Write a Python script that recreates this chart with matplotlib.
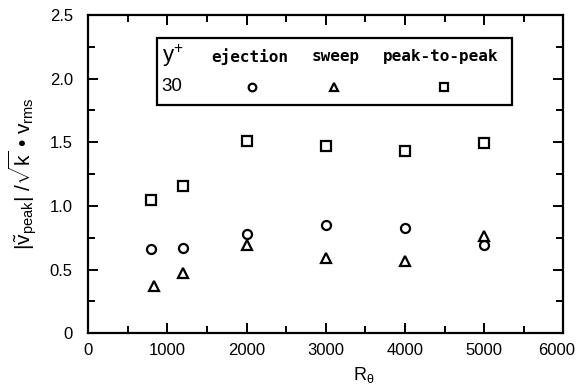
import matplotlib.pyplot as plt
from matplotlib.patches import Rectangle
from matplotlib.transforms import ScaledTranslation
from matplotlib.ticker import MultipleLocator, FixedFormatter, FixedLocator

# R_theta stations and normalised peak amplitudes at y+ = 30
r_theta = [800, 1200, 2000, 3000, 4000, 5000]
r_theta_sweep = [830, 1200, 2000, 3000, 4000, 5000]
ejection = [0.66, 0.67, 0.78, 0.85, 0.83, 0.69]
sweep = [0.37, 0.47, 0.69, 0.59, 0.57, 0.76]
peak_to_peak = [1.05, 1.16, 1.51, 1.47, 1.43, 1.49]

y_ticks = [0, 0.5, 1.0, 1.5, 2.0, 2.5]
y_tick_labels = ['0', '0.5', '1.0', '1.5', '2.0', '2.5']
x_ticks = [0, 1000, 2000, 3000, 4000, 5000, 6000]

plt.rcParams['font.family'] = ['Liberation Sans', 'DejaVu Sans']
plt.rcParams['mathtext.fontset'] = 'custom'
plt.rcParams['mathtext.rm'] = 'Liberation Sans'
plt.rcParams['mathtext.it'] = 'Liberation Sans'
plt.rcParams['mathtext.bf'] = 'Liberation Sans:bold'

fig = plt.figure(figsize=(5.76, 3.92), dpi=100)
ax = fig.add_axes((0.153, 0.150, 0.825, 0.812))

mk = dict(linestyle='none', markerfacecolor='white', markeredgecolor='black',
          markeredgewidth=1.6, color='black', clip_on=False)
ax.plot(r_theta, ejection, marker='o', markersize=6.5, **mk)
ax.plot(r_theta_sweep, sweep, marker='^', markersize=6.5, **mk)
ax.plot(r_theta, peak_to_peak, marker='s', markersize=6.5, **mk)

ax.set_xlim(0, 6000)
ax.set_ylim(0, 2.5)
ax.xaxis.set_major_locator(FixedLocator(x_ticks))
ax.xaxis.set_minor_locator(MultipleLocator(500))
ax.yaxis.set_major_locator(FixedLocator(y_ticks))
ax.yaxis.set_major_formatter(FixedFormatter(y_tick_labels))
ax.yaxis.set_minor_locator(MultipleLocator(0.25))
ax.tick_params(which='both', direction='in', top=True, right=True,
               width=1.4, labelsize=12)
ax.tick_params(which='major', length=7)
ax.tick_params(which='minor', length=5)
ax.tick_params(axis='x', pad=7)
ax.tick_params(axis='y', pad=11)
for s in ax.spines.values():
    s.set_linewidth(1.6)

# keep the last x label inside the figure
fig.canvas.draw()
last = ax.get_xticklabels()[-1]
last.set_transform(last.get_transform() + ScaledTranslation(-7 / 100, 0, fig.dpi_scale_trans))

ax.set_xlabel(r'$\mathregular{R_{\theta}}$', fontsize=13)
ax.xaxis.set_label_coords(0.58, -0.10)
ax.set_ylabel(r'$|\tilde{v}_{peak}|\ /\sqrt{k}$' + ' • ' + r'$v_{rms}$', fontsize=15, labelpad=8)

# hand-built key box
ax.add_patch(Rectangle((0.144, 0.717), 0.749, 0.211, transform=ax.transAxes,
                       fill=False, edgecolor='black', linewidth=1.6))
mono = dict(family='DejaVu Sans Mono', fontsize=11.5, fontweight='bold',
            transform=ax.transAxes, va='center')
ax.text(0.156, 0.872, r'$\mathregular{y^{+}}$', fontsize=16, transform=ax.transAxes,
        va='center', ha='left')
ax.text(0.341, 0.868, 'ejection', ha='center', **mono)
ax.text(0.521, 0.868, 'sweep', ha='center', **mono)
ax.text(0.741, 0.868, 'peak-to-peak', ha='center', **mono)
ax.text(0.154, 0.774, '30', fontsize=13.5, transform=ax.transAxes,
        va='center', ha='left')
ax.plot([0.345], [0.774], marker='o', markersize=5.5, transform=ax.transAxes, **mk)
ax.plot([0.517], [0.774], marker='^', markersize=5.5, transform=ax.transAxes, **mk)
ax.plot([0.749], [0.774], marker='s', markersize=5.5, transform=ax.transAxes, **mk)

fig.savefig('out.png', dpi=100)
